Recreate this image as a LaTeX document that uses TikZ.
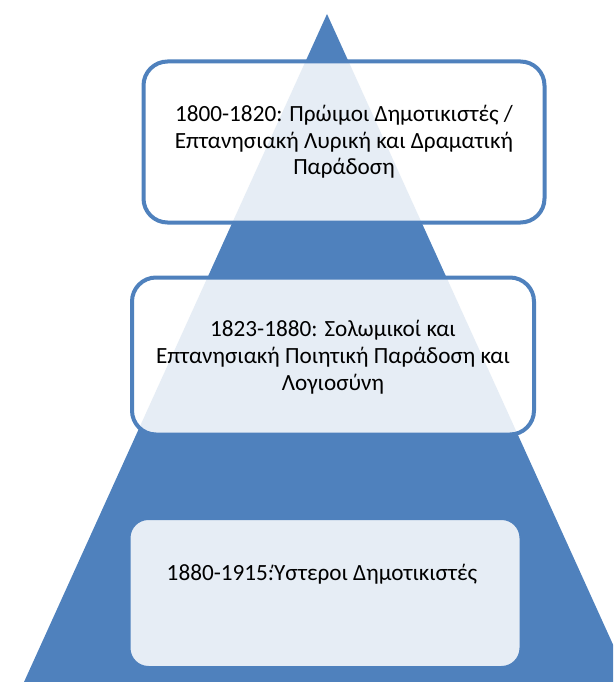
\documentclass[tikz,border=0pt]{standalone}
\usepackage{fontspec}
\setmainfont{Carlito}
\usepackage{tikz}

\definecolor{pyrblue}{RGB}{79,129,189}

\begin{document}
\begin{tikzpicture}[x=1pt,y=-1pt]
    \tikzstyle{layer}=[rectangle,rounded corners=24pt,draw=pyrblue,line width=4pt,fill=white,fill opacity=0.86,inner sep=0pt]
    \tikzstyle{layer text}=[align=center,font=\fontsize{23.2}{26.7}\selectfont]

    \useasboundingbox (0,0) rectangle (613,682);
    \clip (0,0) rectangle (613,682);

    % Draw the pyramid
    \coordinate (top) at (327,14);
    \coordinate (bl) at (24,682);
    \coordinate (br) at (630,682);
    \fill[pyrblue] (top) -- (bl) -- (br) -- cycle;

    % Draw the layers
    \node[layer, minimum width=401pt, minimum height=161pt] (L-1) at (344,142) {};
    \node[layer, minimum width=402pt, minimum height=157pt] (L-2) at (333,356) {};
    \node[layer, minimum width=393pt, minimum height=150pt, rounded corners=20pt] (L-3) at (325,593) {};

    % Annotate the layers
    \node[layer text] (T-1) at (L-1.center) {1800-1820: Πρώιμοι Δημοτικιστές /\\Επτανησιακή Λυρική και Δραματική\\Παράδοση};
    \node[layer text] (T-2) at ([yshift=-1pt]L-2.center) {1823-1880: Σολωμικοί και\\Επτανησιακή Ποιητική Παράδοση και\\Λογιοσύνη};
    \node[layer text] (T-3) at ([yshift=19pt,xshift=-3pt]L-3.center) {1880-1915:Ύστεροι Δημοτικιστές};
\end{tikzpicture}
\end{document}
